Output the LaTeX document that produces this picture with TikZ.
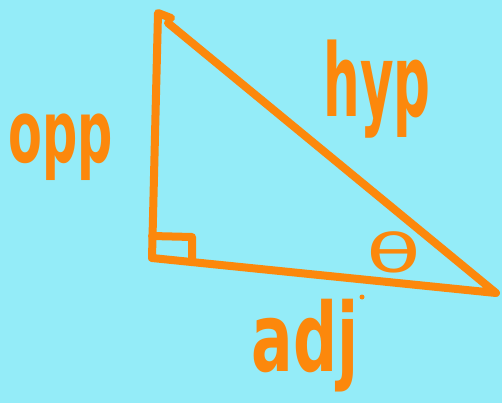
\documentclass[tikz,border=0pt]{standalone}
\usepackage{fontspec}
\setmainfont{DejaVu Sans}
\definecolor{bgcyan}{RGB}{148,236,248}
\definecolor{pen}{RGB}{252,136,12}
\tikzset{
  stroke/.style={draw=pen, line width=8pt, line cap=round, line join=round},
  lbl/.style={text=pen, inner sep=0pt, font=\fontsize{56}{60}\selectfont\bfseries}
}
\begin{document}
\begin{tikzpicture}[x=1pt,y=-1pt]
  \fill[bgcyan] (0,0) rectangle (502,403);
  \useasboundingbox (0,0) rectangle (502,403);
  % vertices
  \coordinate (A) at (158,13);
  \coordinate (H) at (171,18);
  \coordinate (Hs) at (168,23);
  \coordinate (B) at (152,258);
  \coordinate (C) at (496,293);
  \coordinate (S1) at (152,236);
  \coordinate (S2) at (192,237);
  \coordinate (S3) at (192,262);
  % triangle
  \draw[stroke] (B) -- (A) -- (H);
  \draw[stroke] (Hs) -- (C) -- (B);
  \draw[stroke] (S1) -- (S2) -- (S3);
  % labels
  \node[lbl] (opp) at (61,147) {\scalebox{0.88}[1.55]{opp}};
  \node[lbl] (hyp) at (377,89) {\scalebox{0.92}[1.8]{hyp}};
  \node[lbl] (adj) at (305,346) {\scalebox{1.1}[1.7]{adj}};
  \node[lbl, font=\fontsize{56}{60}\selectfont] (theta) at (394,252) {\scalebox{1.6}[0.95]{θ}};
  \fill[pen] (362,297) circle (2.5);
\end{tikzpicture}
\end{document}
